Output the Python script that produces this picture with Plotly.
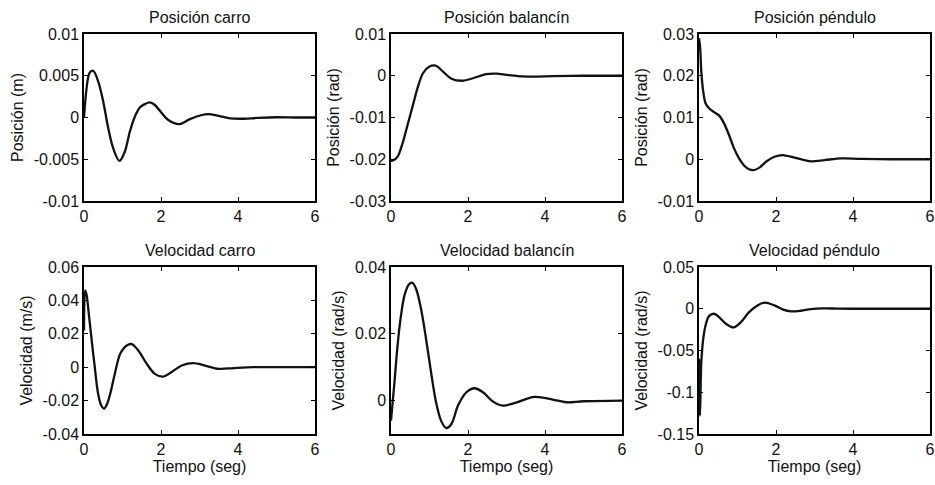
import plotly.graph_objects as go

# ---------------- data ----------------
pc_t = [0, 0.05, 0.1, 0.15, 0.24, 0.37, 0.5, 0.63, 0.76, 0.92, 1.06, 1.19, 1.32, 1.45, 1.58, 1.71, 1.84, 1.97, 2.19, 2.48, 2.75, 3.06, 3.23, 3.5, 3.8, 4.1, 4.5, 5.0, 5.5, 6.0]
pc_y = [0.0, 0.0028, 0.0046, 0.0054, 0.0056, 0.0043, 0.0019, -0.0013, -0.0037, -0.0052, -0.0041, -0.0017, 0.0001, 0.0012, 0.0016, 0.0018, 0.0015, 0.0008, -0.0003, -0.0008, -0.0002, 0.0003, 0.0004, 0.0002, -0.0001, -0.00015, -0.00005, 0.00003, 0.0, 0.0]

pb_t = [0, 0.05, 0.17, 0.30, 0.43, 0.57, 0.70, 0.83, 1.0, 1.16, 1.35, 1.57, 1.85, 2.13, 2.48, 2.74, 3.0, 3.3, 3.7, 4.2, 5.0, 6.0]
pb_y = [-0.0204, -0.0203, -0.0194, -0.0162, -0.0118, -0.0070, -0.0026, 0.0006, 0.0022, 0.0024, 0.0010, -0.0007, -0.0012, -0.0006, 0.0004, 0.0005, 0.0002, -0.0001, -0.0002, -0.0001, 0.0, 0.0]

pp_t = [0, 0.03, 0.06, 0.11, 0.17, 0.26, 0.39, 0.52, 0.65, 0.78, 0.91, 1.04, 1.17, 1.3, 1.42, 1.57, 1.74, 1.96, 2.17, 2.48, 2.91, 3.26, 3.7, 4.2, 5.0, 6.0]
pp_y = [0.0290, 0.0266, 0.0210, 0.0162, 0.0134, 0.0122, 0.0113, 0.0105, 0.0086, 0.0058, 0.0026, 0.0002, -0.0015, -0.0024, -0.0026, -0.0020, -0.0006, 0.0006, 0.0010, 0.0004, -0.0005, -0.0002, 0.0002, 0.0001, 0.0, 0.0]

vc_t = [0, 0.03, 0.07, 0.12, 0.2, 0.28, 0.36, 0.44, 0.52, 0.6, 0.68, 0.81, 0.94, 1.11, 1.24, 1.41, 1.63, 1.84, 2.06, 2.27, 2.54, 2.84, 3.14, 3.5, 3.9, 4.4, 5.0, 6.0]
vc_y = [0.022, 0.046, 0.043, 0.033, 0.016, 0.0, -0.015, -0.0225, -0.0248, -0.022, -0.016, -0.003, 0.008, 0.013, 0.0138, 0.010, 0.002, -0.004, -0.0056, -0.003, 0.001, 0.0024, 0.001, -0.001, -0.0005, 0.0, 0.0, 0.0]

vb_t = [0, 0.09, 0.17, 0.26, 0.35, 0.46, 0.55, 0.65, 0.78, 0.91, 1.04, 1.17, 1.3, 1.43, 1.57, 1.74, 1.96, 2.17, 2.39, 2.65, 2.91, 3.22, 3.73, 4.2, 4.55, 5.0, 6.0]
vb_y = [-0.006, 0.0055, 0.0165, 0.0255, 0.0315, 0.0347, 0.0353, 0.0335, 0.0275, 0.0185, 0.0085, -0.0005, -0.006, -0.0082, -0.007, -0.0015, 0.0025, 0.0037, 0.0025, -0.0003, -0.0015, -0.0007, 0.0011, 0.0003, -0.0005, -0.0002, 0.0]

vp_t = [0, 0.025, 0.06, 0.11, 0.17, 0.26, 0.39, 0.52, 0.7, 0.9, 1.09, 1.3, 1.52, 1.71, 1.96, 2.17, 2.39, 2.65, 2.91, 3.22, 3.6, 4.0, 5.0, 6.0]
vp_y = [-0.06, -0.128, -0.064, -0.036, -0.020, -0.0088, -0.006, -0.010, -0.018, -0.0224, -0.016, -0.004, 0.004, 0.0074, 0.004, -0.0008, -0.0032, -0.0024, -0.0004, 0.0004, 0.0002, 0.0, 0.0, 0.0]

titles = ["Posición carro", "Posición balancín", "Posición péndulo",
          "Velocidad carro", "Velocidad balancín", "Velocidad péndulo"]
ytitles = ["Posición (m)", "Posición (rad)", "Posición (rad)",
           "Velocidad (m/s)", "Velocidad (rad/s)", "Velocidad (rad/s)"]
xtitle = "Tiempo (seg)"

x_tickvals = [0, 2, 4, 6]
x_ticktext = ["0", "2", "4", "6"]

y_ranges = [[-0.01, 0.01], [-0.03, 0.01], [-0.01, 0.03],
            [-0.04, 0.06], [-0.01, 0.04], [-0.15, 0.05]]
y_tickvals = [[-0.01, -0.005, 0, 0.005, 0.01],
              [-0.03, -0.02, -0.01, 0, 0.01],
              [-0.01, 0, 0.01, 0.02, 0.03],
              [-0.04, -0.02, 0, 0.02, 0.04, 0.06],
              [0, 0.02, 0.04],
              [-0.15, -0.1, -0.05, 0, 0.05]]
y_ticktext = [["-0.01", "-0.005", "0", "0.005", "0.01"],
              ["-0.03", "-0.02", "-0.01", "0", "0.01"],
              ["-0.01", "0", "0.01", "0.02", "0.03"],
              ["-0.04", "-0.02", "0", "0.02", "0.04", "0.06"],
              ["0", "0.02", "0.04"],
              ["-0.15", "-0.1", "-0.05", "0", "0.05"]]

series = [(pc_t, pc_y), (pb_t, pb_y), (pp_t, pp_y),
          (vc_t, vc_y), (vb_t, vb_y), (vp_t, vp_y)]

# ---------------- layout geometry ----------------
W, H = 935, 485
cols_px = [(84, 315), (391, 622), (699, 930)]
rows_px = [(34, 201), (267, 434)]

FONT = "Liberation Sans, Arial, Helvetica, sans-serif"
FS = 16

fig = go.Figure()
layout = dict(width=W, height=H, margin=dict(l=0, r=0, t=0, b=0),
              paper_bgcolor="white", plot_bgcolor="white", showlegend=False,
              font=dict(family=FONT, size=FS, color="black"))
annotations = []

for i, (t, y) in enumerate(series):
    r, c = divmod(i, 3)
    n = "" if i == 0 else str(i + 1)
    xd = [cols_px[c][0] / W, cols_px[c][1] / W]
    yd = [1 - rows_px[r][1] / H, 1 - rows_px[r][0] / H]
    fig.add_trace(go.Scatter(x=t, y=y, mode="lines",
                             line=dict(color="#111111", width=2.3, shape="spline", smoothing=0.9),
                             xaxis="x" + n, yaxis="y" + n, hoverinfo="skip"))
    common = dict(showline=True, linecolor="black", linewidth=1.5, mirror="ticks",
                  ticks="inside", ticklen=4, tickwidth=1.2, tickcolor="black",
                  showgrid=False, zeroline=False, automargin=False,
                  tickfont=dict(family=FONT, size=FS, color="#111111"))
    layout["xaxis" + n] = dict(common, domain=xd, range=[0, 6], anchor="y" + n,
                               tickmode="array", tickvals=x_tickvals, ticktext=x_ticktext,
                               title=dict(text=xtitle if r == 1 else "", standoff=3,
                                          font=dict(family=FONT, size=FS, color="#111111")))
    layout["yaxis" + n] = dict(common, domain=yd, range=y_ranges[i], anchor="x" + n,
                               tickmode="array", tickvals=y_tickvals[i], ticktext=y_ticktext[i],
                               title=dict(text=ytitles[i], standoff=6,
                                          font=dict(family=FONT, size=FS, color="#111111")))
    annotations.append(dict(text=titles[i], xref="paper", yref="paper",
                            x=(xd[0] + xd[1]) / 2, y=yd[1], yanchor="bottom",
                            xanchor="center", yshift=6, showarrow=False,
                            font=dict(family=FONT, size=FS, color="#111111")))

layout["annotations"] = annotations
fig.update_layout(**layout)
fig.write_html("out.html")
